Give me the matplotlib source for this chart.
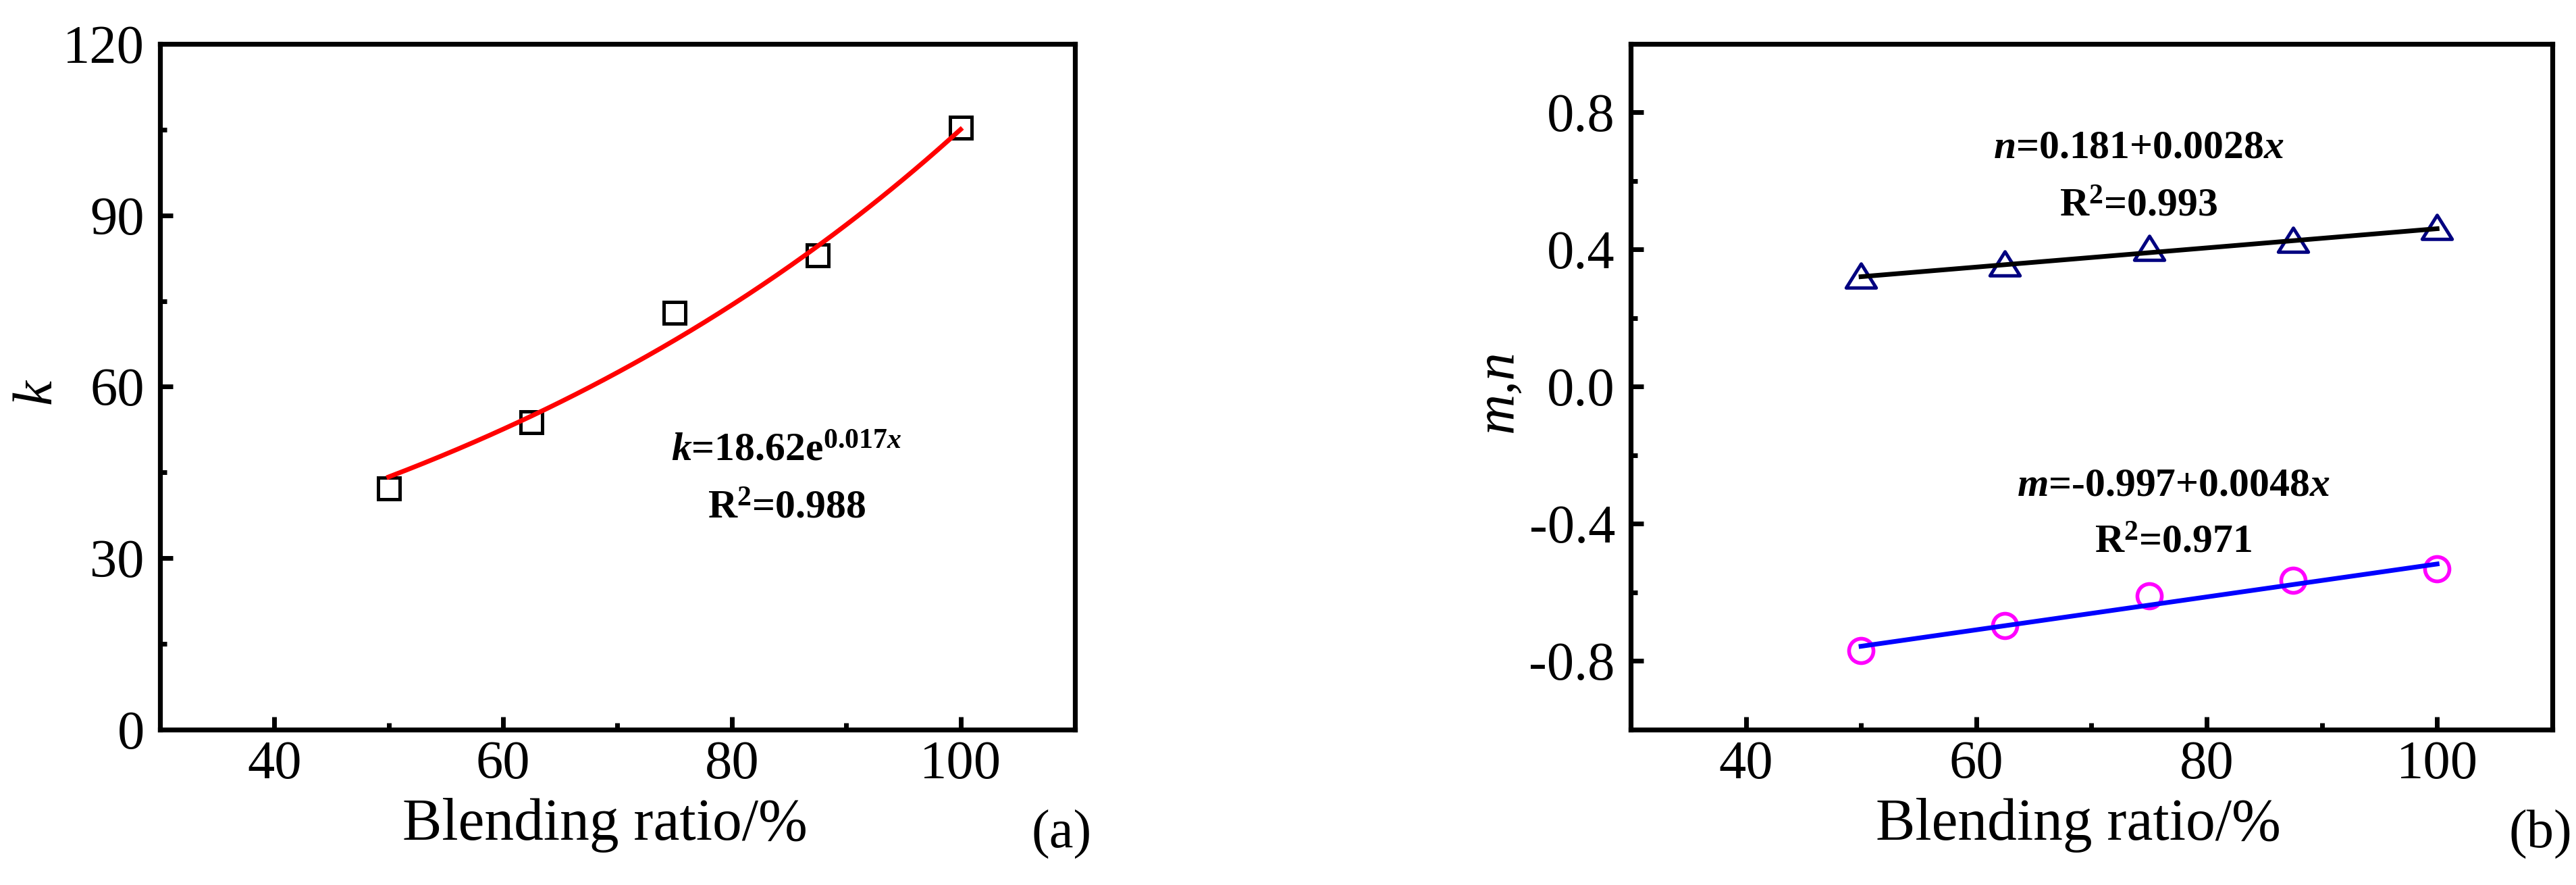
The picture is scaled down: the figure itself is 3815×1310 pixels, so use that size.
import numpy as np
import matplotlib
matplotlib.use("Agg")
import matplotlib.pyplot as plt
from matplotlib.ticker import MultipleLocator, FormatStrFormatter
from matplotlib.path import Path

plt.rcParams["font.family"] = ["Liberation Serif", "DejaVu Serif"]
plt.rcParams["axes.unicode_minus"] = False
plt.rcParams["mathtext.fontset"] = "custom"
plt.rcParams["mathtext.rm"] = "Liberation Serif:bold"
plt.rcParams["mathtext.it"] = "Liberation Serif:italic:bold"
plt.rcParams["mathtext.bf"] = "Liberation Serif:bold"

# 数据
ratio = [50, 62.5, 75, 87.5, 100]
k_vals = [42.2, 53.8, 72.9, 83.0, 105.3]
n_vals = [0.325, 0.360, 0.405, 0.428, 0.466]
m_vals = [-0.769, -0.696, -0.609, -0.565, -0.532]

# 拟合参数
k_fit = (18.62, 0.0173)   # k = a*exp(b*x)
n_fit = (0.181, 0.0028)   # n = a + b*x
m_fit = (-0.997, 0.0048)  # m = a + b*x

k_text = [r"$\mathit{k}$=18.62e$^{0.017\mathit{x}}$", r"R$^{2}$=0.988"]
n_text = [r"$\mathit{n}$=0.181+0.0028$\mathit{x}$", r"R$^{2}$=0.993"]
m_text = [r"$\mathit{m}$=-0.997+0.0048$\mathit{x}$", r"R$^{2}$=0.971"]

TICK_FS = 58
LABEL_FS = 63
ANNOT_FS = 43

tri = Path([[0, 0.8], [-1, -0.8], [1, -0.8], [0, 0.8]],
           [Path.MOVETO, Path.LINETO, Path.LINETO, Path.CLOSEPOLY])


def style_axes(ax):
    for s in ax.spines.values():
        s.set_linewidth(5.2)
    ax.tick_params(which="both", direction="in", top=False, right=False,
                   width=5.0, labelsize=TICK_FS, color="black")
    ax.tick_params(which="major", length=14)
    ax.tick_params(which="minor", length=7)
    ax.tick_params(axis="x", which="both", pad=11.5)
    ax.tick_params(axis="y", which="both", pad=16.5)
    ax.set_xlim(30, 110)
    ax.xaxis.set_major_locator(MultipleLocator(20))
    ax.xaxis.set_minor_locator(MultipleLocator(10))
    ax.set_xlabel("Blending ratio/%", fontsize=LABEL_FS)
    ax.xaxis.set_label_coords(0.486, -0.0995)


fig = plt.figure(figsize=(38.15, 13.10), dpi=100)
ax1 = fig.add_axes([0.0621, 0.1756, 0.3552, 0.7748])
ax2 = fig.add_axes([0.6330, 0.1756, 0.3578, 0.7748])

# (a) k
xs = np.linspace(ratio[0], ratio[-1], 200)
ax1.plot(ratio, k_vals, linestyle="none", marker="s", markersize=23,
         markerfacecolor="none", markeredgecolor="black", markeredgewidth=3.6, zorder=2)
ax1.plot(xs, k_fit[0] * np.exp(k_fit[1] * xs), color="red", linewidth=5, zorder=3)
style_axes(ax1)
ax1.set_ylim(0, 120)
ax1.yaxis.set_major_locator(MultipleLocator(30))
ax1.yaxis.set_minor_locator(MultipleLocator(15))
ax1.set_ylabel("k", fontsize=60, fontstyle="italic", va="center")
ax1.yaxis.set_label_coords(-0.134, 0.493)
ax1.text(84.8, 47.1, k_text[0], fontsize=ANNOT_FS, fontweight="bold", ha="center", va="baseline")
ax1.text(84.8, 37.0, k_text[1], fontsize=ANNOT_FS, fontweight="bold", ha="center", va="baseline")
ax1.text(0.985, -0.172, "(a)", transform=ax1.transAxes, fontsize=TICK_FS,
         ha="center", va="baseline")

# (b) m, n
ax2.plot(ratio, n_vals, linestyle="none", marker=tri, markersize=32,
         markerfacecolor="none", markeredgecolor="#000080", markeredgewidth=3.6, zorder=2)
ax2.plot(ratio, m_vals, linestyle="none", marker="o", markersize=26,
         markerfacecolor="none", markeredgecolor="#FF00FF", markeredgewidth=4.0, zorder=2)
xl = np.array([ratio[0], ratio[-1]])
ax2.plot(xl, n_fit[0] + n_fit[1] * xl, color="black", linewidth=5, zorder=3)
ax2.plot(xl, m_fit[0] + m_fit[1] * xl, color="blue", linewidth=5, zorder=3)
style_axes(ax2)
ax2.set_ylim(-1.0, 1.0)
ax2.yaxis.set_major_locator(MultipleLocator(0.4))
ax2.yaxis.set_minor_locator(MultipleLocator(0.2))
ax2.yaxis.set_major_formatter(FormatStrFormatter("%.1f"))
ax2.set_ylabel("m,n", fontsize=60, fontstyle="italic", va="center")
ax2.yaxis.set_label_coords(-0.1436, 0.494)
ax2.text(74.1, 0.668, n_text[0], fontsize=ANNOT_FS, fontweight="bold", ha="center", va="baseline")
ax2.text(74.1, 0.4975, n_text[1], fontsize=ANNOT_FS, fontweight="bold", ha="center", va="baseline")
ax2.text(77.1, -0.318, m_text[0], fontsize=ANNOT_FS, fontweight="bold", ha="center", va="baseline")
ax2.text(77.1, -0.484, m_text[1], fontsize=ANNOT_FS, fontweight="bold", ha="center", va="baseline")
ax2.text(0.987, -0.172, "(b)", transform=ax2.transAxes, fontsize=TICK_FS,
         ha="center", va="baseline")

fig.savefig("out.png", dpi=100, facecolor="white")
plt.close(fig)
